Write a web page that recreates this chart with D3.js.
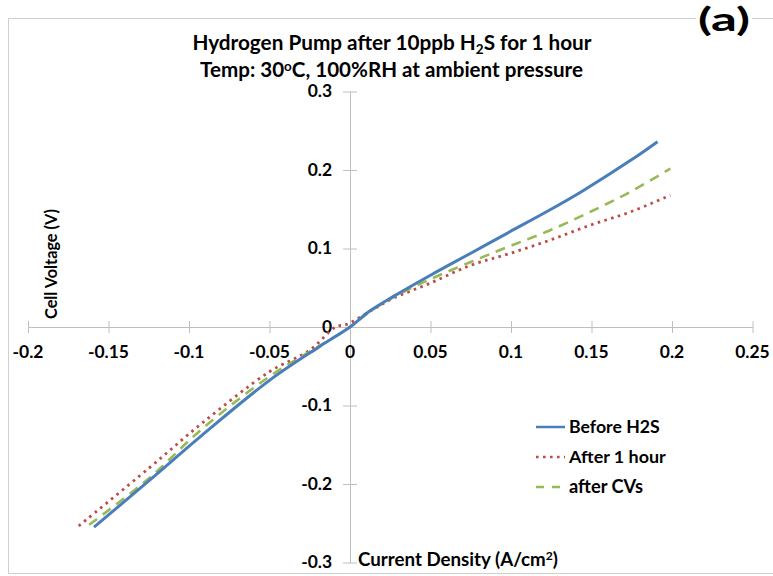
<!DOCTYPE html>
<html>
<head>
<meta charset="utf-8">
<script src="https://cdn.jsdelivr.net/npm/d3@7"></script>
<style>
  html, body { margin: 0; padding: 0; background: #fff; }
  svg { display: block; font-family: Lato, "Open Sans", sans-serif; font-weight: bold; }
</style>
</head>
<body>
<svg id="chart" width="773" height="576"></svg>
<script>
// Polarisation curves of the hydrogen pump (current density in A/cm², cell voltage in V)
const beforeJ = [-0.159, -0.125, -0.092, -0.050, -0.019, 0, 0.012, 0.027, 0.050, 0.075, 0.099, 0.124, 0.145, 0.176, 0.191];
const beforeV = [-0.255, -0.196, -0.138, -0.068, -0.025, 0, 0.020, 0.039, 0.066, 0.094, 0.121, 0.149, 0.174, 0.2145, 0.236];

const after1hJ = [-0.1685, -0.125, -0.092, -0.050, -0.025, -0.0087, -0.0025, 0.012, 0.027, 0.050, 0.075, 0.099, 0.124, 0.149, 0.174, 0.199];
const after1hV = [-0.2535, -0.180, -0.1227, -0.057, -0.0295, 0.0004, 0.003, 0.0195, 0.0366, 0.056, 0.0786, 0.0935, 0.1105, 0.1296, 0.1465, 0.1678];

const afterCVJ = [-0.162, -0.125, -0.092, -0.050, -0.019, 0, 0.012, 0.027, 0.050, 0.075, 0.099, 0.124, 0.149, 0.174, 0.199];
const afterCVV = [-0.252, -0.193, -0.130, -0.063, -0.024, 0, 0.019, 0.038, 0.061, 0.0828, 0.1028, 0.123, 0.1465, 0.172, 0.2018];

const seriesNames = ["Before H2S", "After 1 hour", "after CVs"];
const seriesColors = ["#4a7ebb", "#be4b48", "#98b954"];

const xTicks = [-0.2, -0.15, -0.1, -0.05, 0, 0.05, 0.1, 0.15, 0.2, 0.25];
const xTickLabels = ["-0.2", "-0.15", "-0.1", "-0.05", "0", "0.05", "0.1", "0.15", "0.2", "0.25"];
const yTicks = [-0.3, -0.2, -0.1, 0, 0.1, 0.2, 0.3];
const yTickLabels = ["-0.3", "-0.2", "-0.1", "0", "0.1", "0.2", "0.3"];

const svg = d3.select("#chart");
const axisColor = "#bfbfbf";

const x = d3.scaleLinear().domain([-0.2, 0.25]).range([28, 752.5]);
const y = d3.scaleLinear().domain([-0.3, 0.3]).range([562.5, 91.5]);

// Scale a text element's font size so that it spans the given width
function fit(sel, width) {
  const node = sel.node();
  const fs = parseFloat(sel.attr("font-size"));
  const w = node.getBBox().width;
  sel.attr("font-size", (fs * width / w).toFixed(2));
  return sel;
}

// Outer frame
svg.append("rect")
  .attr("x", 8.5).attr("y", 18.5)
  .attr("width", 800).attr("height", 555)
  .attr("fill", "#fff").attr("stroke", "#d0d0d0").attr("stroke-width", 1);

// Panel label
svg.append("rect").attr("x", 696).attr("y", 8).attr("width", 56).attr("height", 26).attr("fill", "#fff");
svg.append("text")
  .attr("x", 698).attr("y", 31)
  .attr("font-size", 33).attr("fill", "#000")
  .attr("textLength", 52).attr("lengthAdjust", "spacingAndGlyphs")
  .text("(a)");

// Title
const t1 = svg.append("text").attr("x", 392).attr("y", 50).attr("text-anchor", "middle")
  .attr("font-size", 17).attr("fill", "#000");
t1.append("tspan").text("Hydrogen Pump after 10ppb H");
t1.append("tspan").attr("font-size", "0.65em").attr("dy", 4).text("2");
t1.append("tspan").attr("dy", -4).text("S for 1 hour");
fit(t1, 400);

const t2 = svg.append("text").attr("x", 391.5).attr("y", 77).attr("text-anchor", "middle")
  .attr("font-size", 17).attr("fill", "#000");
t2.append("tspan").text("Temp: 30");
t2.append("tspan").attr("font-size", "0.65em").attr("dy", -6).text("o");
t2.append("tspan").attr("dy", 6).text("C, 100%RH at ambient pressure");
fit(t2, 383);

// Axes crossing at the origin, with ticks straddling each line
const xAxisG = svg.append("g").attr("transform", `translate(0,${y(0)})`);
xAxisG.call(d3.axisBottom(x).tickValues(xTicks).tickSize(0).tickFormat(""));
xAxisG.select(".domain").attr("stroke", axisColor);
xAxisG.selectAll(".tick line").remove();
xAxisG.selectAll(".tick").append("line")
  .attr("y1", -6).attr("y2", 6).attr("stroke", axisColor);

const yAxisG = svg.append("g").attr("transform", `translate(${x(0)},0)`);
yAxisG.call(d3.axisLeft(y).tickValues(yTicks).tickSize(0).tickFormat(""));
yAxisG.select(".domain").attr("stroke", axisColor);
yAxisG.selectAll(".tick line").remove();
yAxisG.selectAll(".tick").append("line")
  .attr("x1", -7).attr("x2", 7).attr("stroke", axisColor);

// Tick label size chosen from the widest x label
const probe = svg.append("text").attr("font-size", 15).text("-0.15");
fit(probe, 41);
const tickFs = probe.attr("font-size");
probe.remove();

svg.append("g").selectAll("text").data(xTicks).join("text")
  .attr("x", d => x(d)).attr("y", y(0) + 31)
  .attr("text-anchor", "middle").attr("font-size", tickFs).attr("fill", "#000")
  .text((d, i) => xTickLabels[i]);

svg.append("g").selectAll("text").data(yTicks).join("text")
  .attr("x", x(0) - 18).attr("y", d => y(d) + 5.5)
  .attr("text-anchor", "end").attr("font-size", tickFs).attr("fill", "#000")
  .text((d, i) => yTickLabels[i]);

// Axis titles
const yTitle = svg.append("text")
  .attr("transform", "translate(57,264) rotate(-90)")
  .attr("text-anchor", "middle").attr("font-size", 15).attr("fill", "#000")
  .text("Cell Voltage (V)");
fit(yTitle, 110);

const xTitle = svg.append("text").attr("x", 358).attr("y", 566)
  .attr("font-size", 16).attr("fill", "#000");
xTitle.append("tspan").text("Current Density (A/cm");
xTitle.append("tspan").attr("font-size", "0.65em").attr("dy", -6).text("2");
xTitle.append("tspan").attr("dy", 6).text(")");
fit(xTitle, 200);

// Curves
const line = d3.line()
  .x(d => x(d[0])).y(d => y(d[1]))
  .curve(d3.curveCatmullRom.alpha(0.5));

const series = [
  { J: beforeJ, V: beforeV, dash: null, width: 3 },
  { J: after1hJ, V: after1hV, dash: "2.6 4.4", width: 2.8 },
  { J: afterCVJ, V: afterCVV, dash: "10 7", width: 2.6 }
];

const drawOrder = [1, 2, 0];
drawOrder.forEach(i => {
  const s = series[i];
  const pts = s.J.map((j, k) => [j, s.V[k]]);
  svg.append("path")
    .attr("d", line(pts))
    .attr("fill", "none")
    .attr("stroke", seriesColors[i])
    .attr("stroke-width", s.width)
    .attr("stroke-dasharray", s.dash)
    .attr("stroke-linejoin", "round");
});

// Legend
const legendY = [427, 457, 487];
const legendTextW = [91, 98, 74];
const legendDash = [null, "2.6 4.4", "8 8"];
seriesNames.forEach((name, i) => {
  svg.append("line")
    .attr("x1", 536).attr("x2", 565)
    .attr("y1", legendY[i]).attr("y2", legendY[i])
    .attr("stroke", seriesColors[i])
    .attr("stroke-width", i === 0 ? 2.5 : 2.6)
    .attr("stroke-dasharray", legendDash[i]);
  const t = svg.append("text")
    .attr("x", 569).attr("y", legendY[i] + 5.5)
    .attr("font-size", 16).attr("fill", "#000").text(name);
  fit(t, legendTextW[i]);
});
</script>
</body>
</html>
